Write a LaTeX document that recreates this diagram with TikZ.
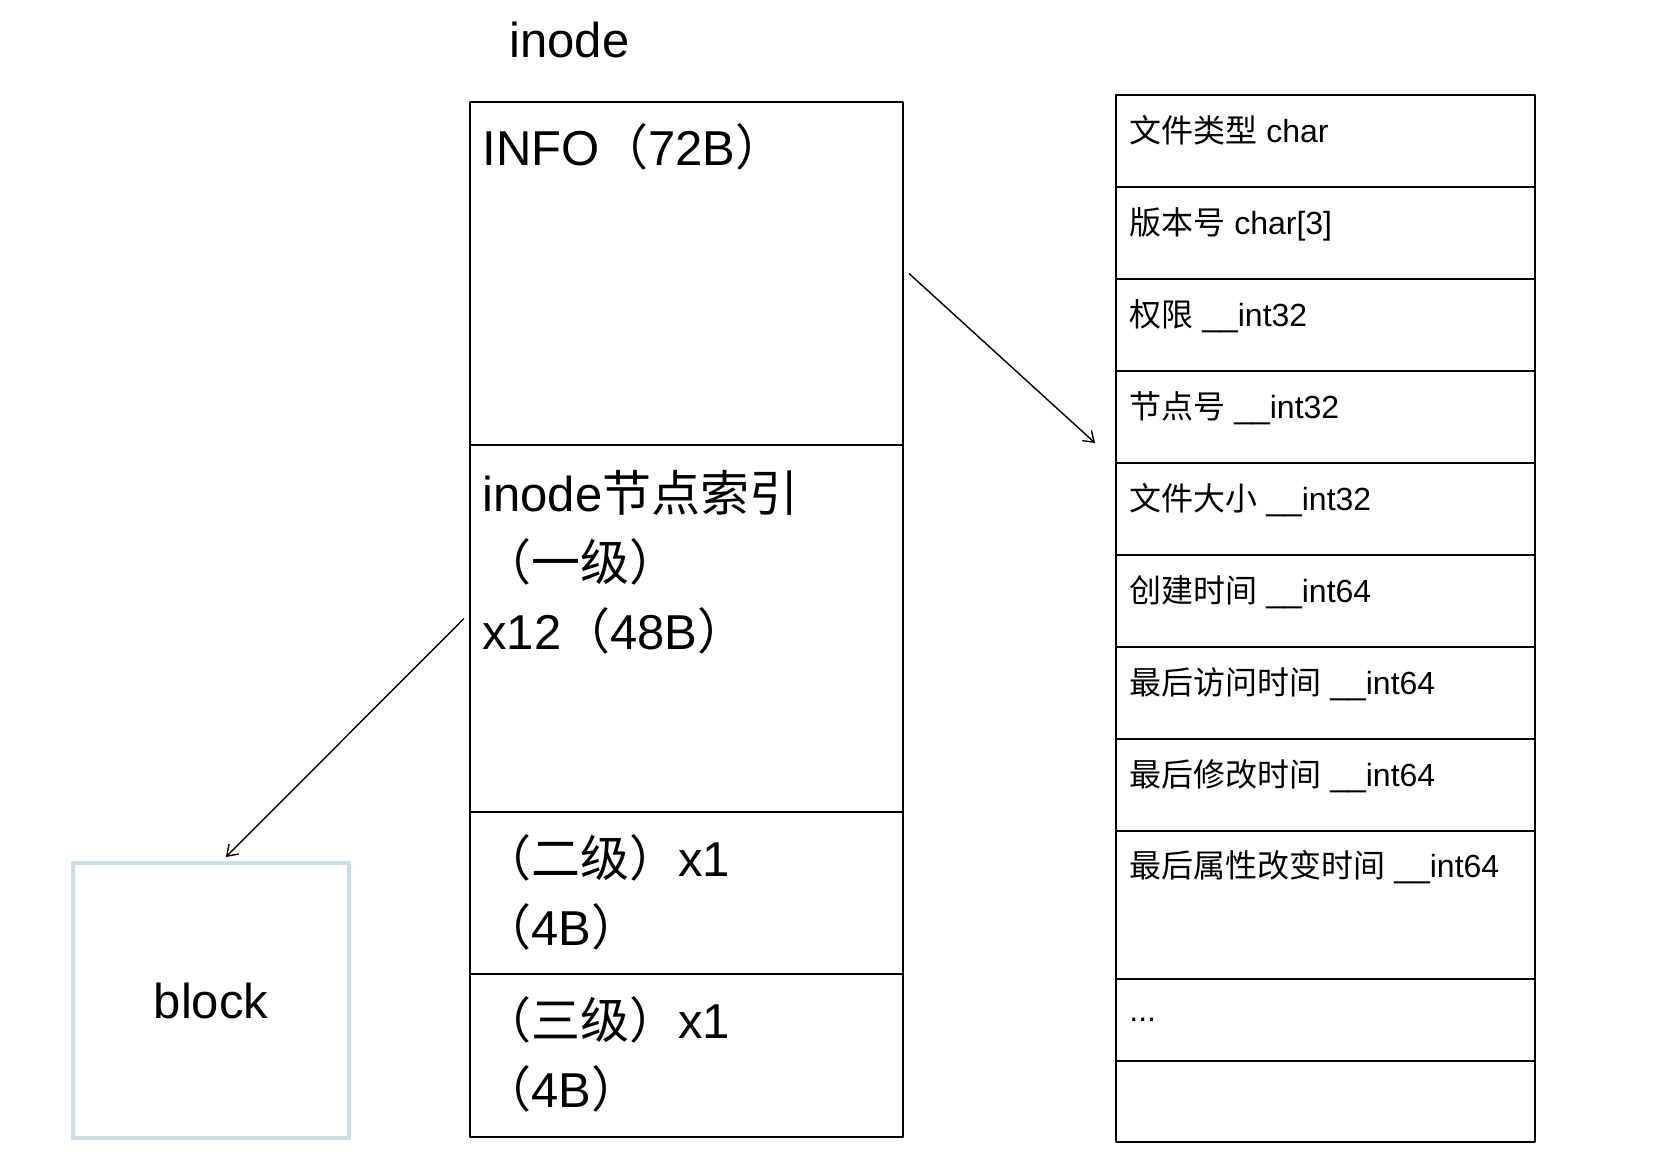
\documentclass[tikz,border=0pt]{standalone}
\usepackage{fontspec}
\setmainfont{Liberation Sans}
\newfontfamily\cjk{Noto Sans CJK SC}
\usetikzlibrary{arrows.meta}
\definecolor{blockblue}{HTML}{C8E0E4}
\begin{document}
\begin{tikzpicture}[x=0.5pt,y=-0.5pt,line join=round,
  >={Straight Barb[length=5pt,width=7pt]},
  cell/.style={draw,line width=1pt,anchor=north west,inner sep=0pt,outer sep=0pt,minimum width=216.5pt},
  fld/.style={draw,line width=1pt,anchor=north west,inner sep=0pt,outer sep=0pt,minimum width=209.5pt},
  big/.style={font=\fontsize{24.5}{34.5}\selectfont,inner sep=0pt,anchor=base west,align=left},
  small/.style={font=\fontsize{16}{20}\selectfont,inner sep=0pt,anchor=base west}]
\useasboundingbox (0,0) rectangle (1662,1170);
% inode
\node[big] (title) at (509,58) {inode};
\node[cell,minimum height=171.5pt] (info) at (470,102) {};
\node[cell,minimum height=183.5pt] (idx1) at (info.south west) {};
\node[cell,minimum height=81pt] (idx2) at (idx1.south west) {};
\node[cell,minimum height=81.5pt] (idx3) at (idx2.south west) {};
% base of a multi-line node is its last line
\node[big] at ([xshift=6pt,yshift=-32pt]info.north west) {INFO{\cjk （}72B{\cjk ）}};
\node[big] at ([xshift=6pt,yshift=-102.5pt]idx1.north west) {inode{\cjk 节点索引}\\{\cjk （一级）}\\x12{\cjk （}48B{\cjk ）}};
\node[big] at ([xshift=6pt,yshift=-67pt]idx2.north west) {{\cjk （二级）}x1\\{\cjk （}4B{\cjk ）}};
\node[big] at ([xshift=6pt,yshift=-67pt]idx3.north west) {{\cjk （三级）}x1\\{\cjk （}4B{\cjk ）}};
% fields
\foreach \txt [count=\i] in {{{\cjk 文件类型} char},{{\cjk 版本号} char[3]},{{\cjk 权限} \_\_int32},
    {{\cjk 节点号} \_\_int32},{{\cjk 文件大小} \_\_int32},{{\cjk 创建时间} \_\_int64},
    {{\cjk 最后访问时间} \_\_int64},{{\cjk 最后修改时间} \_\_int64}}{
  \node[fld,minimum height=46pt] (f\i) at (1116,{95+92*(\i-1)}) {};
  \node[small] at ([xshift=6.5pt,yshift=-24pt]f\i.north west) {\txt};
}
\node[fld,minimum height=74pt] (f9) at (f8.south west) {};
\node[fld,minimum height=41pt] (f10) at (f9.south west) {};
\node[fld,minimum height=40.5pt] (f11) at (f10.south west) {};
\node[small] at ([xshift=6.5pt,yshift=-23.5pt]f9.north west) {{\cjk 最后属性改变时间} \_\_int64};
\node[small] at ([xshift=6.5pt,yshift=-21.5pt]f10.north west) {...};
% block
\node[draw=blockblue,line width=2pt,outer sep=0pt,minimum width=138pt,minimum height=137.5pt,
  font=\fontsize{24.5}{30}\selectfont] (blk) at (211,1000.5) {block};
\coordinate (tip1) at (1095,443);
\draw[->,line width=0.7pt] ([xshift=3pt]info.east) -- (tip1);
\draw[->,line width=0.7pt] ([xshift=-3pt,yshift=5pt]idx1.west) -- ([xshift=7.5pt,yshift=3pt]blk.north);
\end{tikzpicture}
\end{document}
